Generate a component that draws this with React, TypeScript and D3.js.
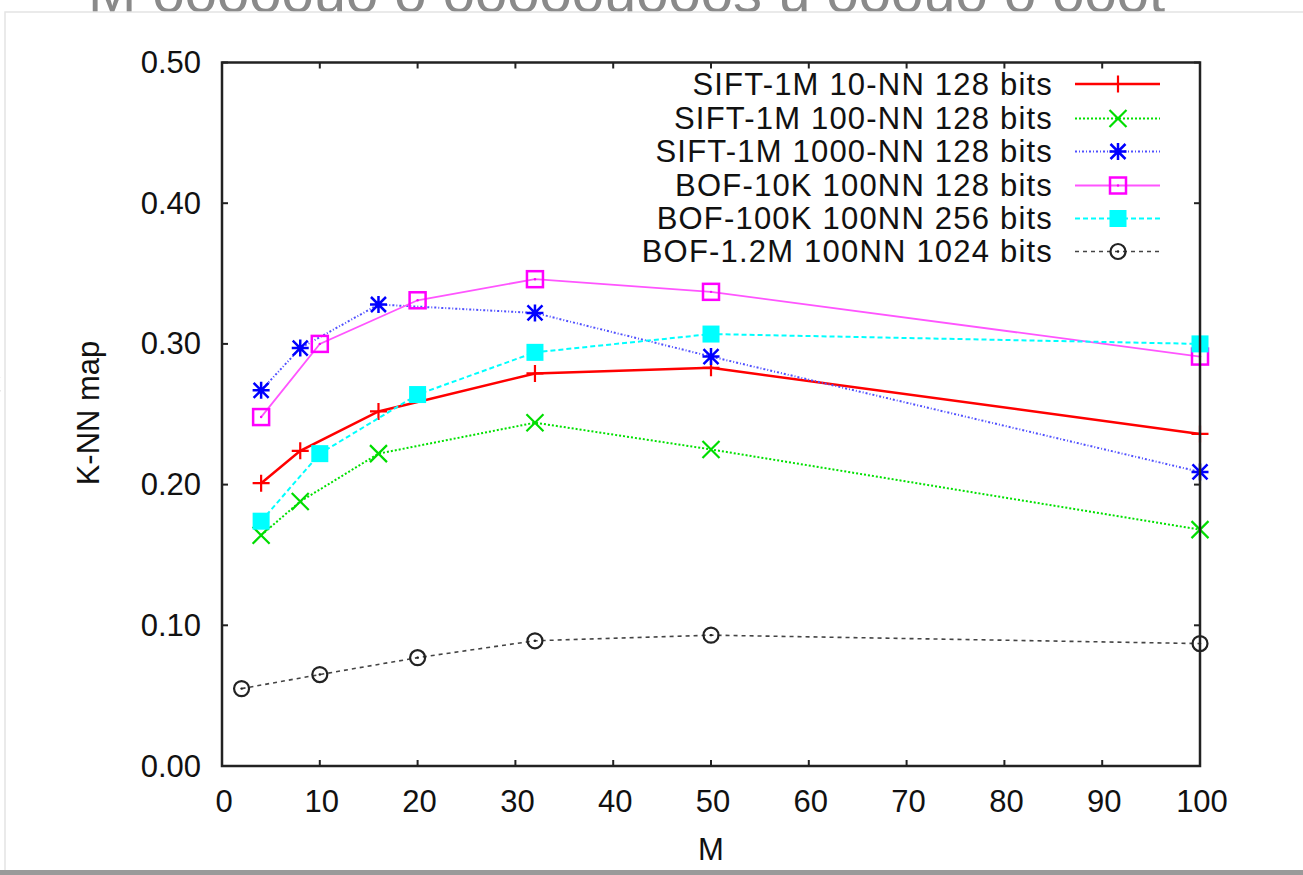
import * as React from "react";
import * as d3 from "d3";

// M values (x) for each group of runs
const mSift = [4, 8, 16, 32, 50, 100];
const mBof = [4, 10, 20, 32, 50, 100];
const mBofLarge = [2, 10, 20, 32, 50, 100];

// K-NN map values
const sift10nn = [0.201, 0.224, 0.252, 0.279, 0.283, 0.236];
const sift100nn = [0.164, 0.188, 0.222, 0.244, 0.225, 0.168];
const sift1000nn = [0.267, 0.297, 0.328, 0.322, 0.291, 0.209];
const bof10k = [0.248, 0.3, 0.331, 0.346, 0.337, 0.291];
const bof100k = [0.174, 0.222, 0.264, 0.294, 0.307, 0.3];
const bof12m = [0.055, 0.065, 0.077, 0.089, 0.093, 0.087];

const seriesNames = [
  "SIFT-1M 10-NN 128 bits",
  "SIFT-1M 100-NN 128 bits",
  "SIFT-1M 1000-NN 128 bits",
  "BOF-10K 100NN 128 bits",
  "BOF-100K 100NN 256 bits",
  "BOF-1.2M 100NN 1024 bits",
];

const xTicks = [0, 10, 20, 30, 40, 50, 60, 70, 80, 90, 100];
const yTicks = [0, 0.1, 0.2, 0.3, 0.4, 0.5];

const series = [
  { name: seriesNames[0], xs: mSift, ys: sift10nn, color: "#ff0000", lw: 2.5, dash: "", marker: "plus" },
  { name: seriesNames[1], xs: mSift, ys: sift100nn, color: "#00e000", lw: 2, dash: "2,2", marker: "cross" },
  { name: seriesNames[2], xs: mSift, ys: sift1000nn, color: "#5050ff", lw: 2, dash: "2,2,1,2", marker: "star" },
  { name: seriesNames[3], xs: mBof, ys: bof10k, color: "#ff55ff", lw: 1.8, dash: "", marker: "square" },
  { name: seriesNames[4], xs: mBof, ys: bof100k, color: "#00ffff", lw: 2, dash: "5,3", marker: "fsquare" },
  { name: seriesNames[5], xs: mBofLarge, ys: bof12m, color: "#444444", lw: 1.6, dash: "4,4", marker: "circle" },
];

const markerColors: Record<string, string> = {
  plus: "#ff0000",
  cross: "#00dd00",
  star: "#0000ff",
  square: "#ff00ff",
  fsquare: "#00ffff",
  circle: "#222222",
};

const Marker = ({ type, x, y }: { type: string; x: number; y: number }) => {
  const c = markerColors[type];
  const s = 8.5;
  if (type === "plus")
    return (
      <path d={`M${x - s},${y}H${x + s}M${x},${y - s}V${y + s}`} stroke={c} strokeWidth={2.2} />
    );
  if (type === "cross")
    return (
      <path
        d={`M${x - s},${y - s}L${x + s},${y + s}M${x - s},${y + s}L${x + s},${y - s}`}
        stroke={c}
        strokeWidth={2.2}
      />
    );
  if (type === "star")
    return (
      <path
        d={`M${x - s},${y}H${x + s}M${x},${y - s}V${y + s}M${x - s + 1},${y - s + 1}L${x + s - 1},${y + s - 1}M${x - s + 1},${y + s - 1}L${x + s - 1},${y - s + 1}`}
        stroke={c}
        strokeWidth={2.5}
      />
    );
  if (type === "square")
    return (
      <g>
        <rect x={x - 8} y={y - 8} width={16} height={16} fill="none" stroke={c} strokeWidth={2.5} />
        <circle cx={x} cy={y} r={1.2} fill={c} />
      </g>
    );
  if (type === "fsquare")
    return <rect x={x - 8.5} y={y - 8.5} width={17} height={17} fill={c} />;
  return (
    <g>
      <circle cx={x} cy={y} r={7.5} fill="none" stroke={c} strokeWidth={2.2} />
      <circle cx={x} cy={y} r={1.2} fill={c} />
    </g>
  );
};

export default function App() {
  const width = 1303;
  const height = 875;
  const left = 222;
  const right = 1200;
  const top = 62.5;
  const bottom = 766;

  const x = d3.scaleLinear().domain([0, 100]).range([left, right]);
  const y = d3.scaleLinear().domain([0, 0.5]).range([bottom, top]);

  const font = "'Liberation Sans', Arial, sans-serif";
  const fs = 31;

  const line = d3
    .line<[number, number]>()
    .x((d) => x(d[0]))
    .y((d) => y(d[1]));

  const legendRows = [84, 118.5, 151.5, 185.5, 218.5, 251.5];

  return (
    <div style={{ position: "absolute", left: 0, top: 0 }}>
      <svg width={width} height={height} style={{ display: "block" }}>
        <rect width={width} height={height} fill="#ffffff" />
        {/* page behind the screenshot card */}
        <text x={88} y={12} fontSize={58} fill="#8a8a8a" fontFamily={font}>
          M ooooouo o ooooouooos  u ooouo o ooot
        </text>
        <text x={-20} y={140} fontSize={60} fill="#8a8a8a" fontFamily={font}>t</text>
        <text x={-28} y={215} fontSize={60} fill="#8a8a8a" fontFamily={font}>l</text>
        <text x={-24} y={300} fontSize={60} fill="#8a8a8a" fontFamily={font}>:</text>
        <text x={-28} y={400} fontSize={60} fill="#8a8a8a" fontFamily={font}>c</text>
        <rect x={5} y={12} width={width} height={859} fill="#fff" stroke="#e4e4e4" strokeWidth={1.5} />
        <rect x={0} y={870} width={width} height={5} fill="#9a9a9a" />

        {/* ticks */}
        <g stroke="#222" strokeWidth={2}>
          {xTicks.map((t) => (
            <g key={"xt" + t}>
              <line x1={x(t)} x2={x(t)} y1={bottom} y2={bottom - 6} />
              <line x1={x(t)} x2={x(t)} y1={top} y2={top + 6} />
            </g>
          ))}
          {yTicks.map((t) => (
            <g key={"yt" + t}>
              <line x1={left} x2={left + 6} y1={y(t)} y2={y(t)} />
              <line x1={right} x2={right - 6} y1={y(t)} y2={y(t)} />
            </g>
          ))}
        </g>

        {/* tick labels */}
        <g fontFamily={font} fontSize={fs} fill="#111">
          {xTicks.map((t) => (
            <text key={"xl" + t} x={x(t) + 2} y={812} textAnchor="middle">
              {t}
            </text>
          ))}
          {yTicks.map((t) => (
            <text key={"yl" + t} x={201} y={y(t)} textAnchor="end" dominantBaseline="central">
              {t.toFixed(2)}
            </text>
          ))}
          <text x={(left + right) / 2} y={860} textAnchor="middle">M</text>
          <text
            transform={`translate(99,${413}) rotate(-90)`}
            textAnchor="middle"
          >
            K-NN map
          </text>
        </g>

        {/* legend */}
        <g fontFamily={font} fontSize={fs} fill="#111">
          {series.map((s, i) => (
            <g key={"lg" + i}>
              <text
                x={1053}
                y={legendRows[i]}
                textAnchor="end"
                dominantBaseline="central"
                letterSpacing={1.2}
              >
                {s.name}
              </text>
              <line
                x1={1075}
                x2={1160}
                y1={legendRows[i]}
                y2={legendRows[i]}
                stroke={s.color}
                strokeWidth={s.lw}
                strokeDasharray={s.dash || undefined}
              />
              <Marker type={s.marker} x={1118} y={legendRows[i]} />
            </g>
          ))}
        </g>

        {/* series */}
        {series.map((s, i) => {
          const pts = s.xs.map((m, j) => [m, s.ys[j]] as [number, number]);
          return (
            <g key={"s" + i}>
              <path
                d={line(pts) || ""}
                fill="none"
                stroke={s.color}
                strokeWidth={s.lw}
                strokeDasharray={s.dash || undefined}
              />
              {pts.map((p, j) => (
                <Marker key={j} type={s.marker} x={x(p[0])} y={y(p[1])} />
              ))}
            </g>
          );
        })}

        {/* frame */}
        <rect
          x={left}
          y={top}
          width={right - left}
          height={bottom - top}
          fill="none"
          stroke="#222"
          strokeWidth={2.5}
        />
      </svg>
    </div>
  );
}
